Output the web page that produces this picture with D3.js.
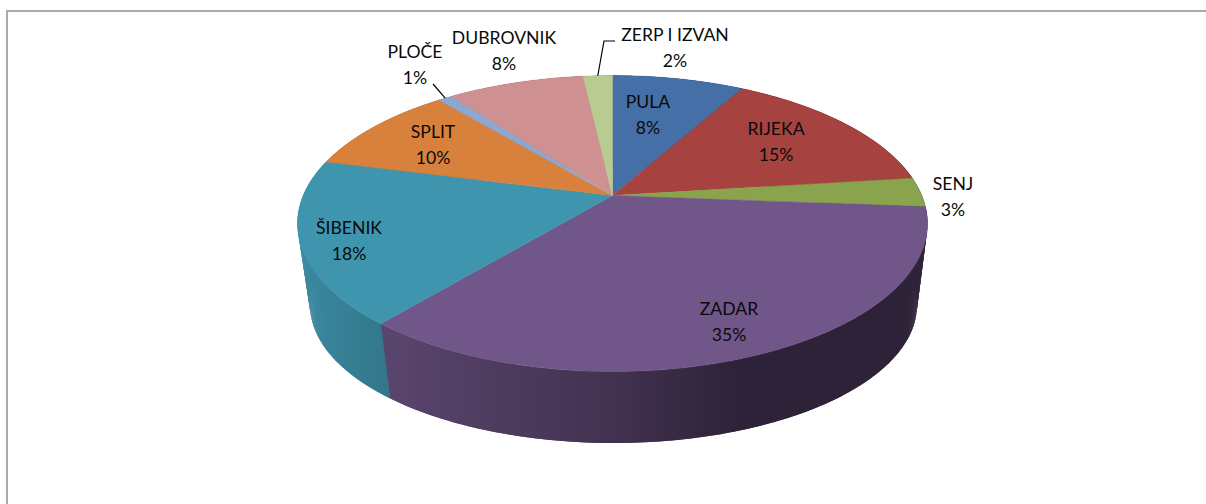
<!DOCTYPE html>
<html>
<head>
<meta charset="utf-8">
<script src="https://cdn.jsdelivr.net/npm/d3@7"></script>
<style>
  html, body { margin: 0; padding: 0; background: #fff; overflow: hidden; }
  text { font-family: Lato, "Open Sans", sans-serif; font-size: 17.6px; fill: #0a0a0a; }
</style>
</head>
<body>
<div id="chart"></div>
<script>
// Chart data
var categories = ["PULA", "RIJEKA", "SENJ", "ZADAR", "ŠIBENIK", "SPLIT", "PLOČE", "DUBROVNIK", "ZERP I IZVAN"];
var values = [8.1, 14.9, 3.2, 34.8, 17.9, 9.9, 0.9, 8.4, 1.8];
var percentLabels = ["8%", "15%", "3%", "35%", "18%", "10%", "1%", "8%", "2%"];
var colors = ["#4470a7", "#a64340", "#89a44c", "#71568a", "#4095ae", "#d8813d", "#8ea7cf", "#ce9090", "#b9cb92"];

// Label centres (x, y of first line), one per category
var labelX = [648, 776, 953, 729, 349, 433, 415, 504, 675];
var labelY = [101, 128, 183, 308, 227, 131, 51, 37, 34];

var width = 1206, height = 504;

var svg = d3.select("#chart").append("svg")
    .attr("width", width)
    .attr("height", height);

// Frame, only top and left are in view
svg.append("path")
    .attr("d", "M7,504V11H1206")
    .attr("fill", "none")
    .attr("stroke", "#aaaaaa")
    .attr("stroke-width", 2);

// Perspective: the disc is a circle seen from the front, so back is squeezed
var k = 0.189;
var topFace = { cx: 612.5, cy: 195.6, a: 142.7, b: 309.3 };
var bottomFace = { cx: 613.5, cy: 279, a: 133, b: 298 };

function project(face, angle) {
    var u = Math.sin(angle), v = Math.cos(angle);
    var w = 1 + k * v;
    return [face.cx + face.b * u / w, face.cy - face.a * v / w];
}

function arcPoints(face, s) {
    var n = Math.max(2, Math.ceil((s.endAngle - s.startAngle) / 0.01));
    return d3.range(n + 1).map(j => project(face, s.startAngle + (s.endAngle - s.startAngle) * j / n));
}

var pie = d3.pie().sort(null).value(d => d);
var slices = pie(values).map((d, i) => Object.assign(d, { i: i }));

// Side wall gets darker toward the right
var shadeX = [300, 385, 612, 740, 930];
var shadeF = [0.92, 0.8, 0.58, 0.4, 0.4];

function darken(color, f) {
    var c = d3.rgb(color);
    return d3.rgb(c.r * f, c.g * f, c.b * f).formatHex();
}

var grads = svg.append("defs").selectAll("linearGradient")
    .data(slices)
    .join("linearGradient")
    .attr("id", d => "wall" + d.i)
    .attr("gradientUnits", "userSpaceOnUse")
    .attr("x1", shadeX[0]).attr("x2", shadeX[shadeX.length - 1])
    .attr("y1", 0).attr("y2", 0);

grads.selectAll("stop")
    .data(d => shadeX.map((x, j) => ({ x: x, f: shadeF[j], color: colors[d.i] })))
    .join("stop")
    .attr("offset", d => (d.x - shadeX[0]) / (shadeX[shadeX.length - 1] - shadeX[0]))
    .attr("stop-color", d => darken(d.color, d.f));

// Side walls as thin quads, each one overlaps the next so no seams show.
// The top face hides whatever is at the back.
var step = Math.PI / 360;
var strips = [];
slices.forEach(s => {
    d3.range(s.startAngle, s.endAngle, step).forEach(a => {
        strips.push({ a0: a, a1: a + 2 * step, i: s.i });
    });
});

svg.append("g").selectAll("path")
    .data(strips)
    .join("path")
    .attr("d", d => {
        var p = [project(topFace, d.a0), project(topFace, d.a1), project(bottomFace, d.a1), project(bottomFace, d.a0)];
        return "M" + p.join("L") + "Z";
    })
    .attr("fill", d => "url(#wall" + d.i + ")");

// Top face
svg.append("g").selectAll("path")
    .data(slices)
    .join("path")
    .attr("d", d => d3.line()([[topFace.cx, topFace.cy]].concat(arcPoints(topFace, d))) + "Z")
    .attr("fill", d => colors[d.i])
    .attr("stroke", d => colors[d.i])
    .attr("stroke-width", 0.5);

// Leader lines for the two small outer labels
var leaders = [
    { i: 6, elbow: [[433, 84]] },
    { i: 8, elbow: [[604, 41], [615, 41]] }
];
svg.append("g").selectAll("path")
    .data(leaders)
    .join("path")
    .attr("d", d => {
        var s = slices[d.i];
        return d3.line()([project(topFace, (s.startAngle + s.endAngle) / 2)].concat(d.elbow));
    })
    .attr("fill", "none")
    .attr("stroke", "#000")
    .attr("stroke-width", 1.2);

// Labels
var label = svg.append("g").selectAll("text")
    .data(categories)
    .join("text")
    .attr("text-anchor", "middle");

label.append("tspan")
    .attr("x", (d, i) => labelX[i])
    .attr("y", (d, i) => labelY[i] + 7)
    .text(d => d);

label.append("tspan")
    .attr("x", (d, i) => labelX[i])
    .attr("y", (d, i) => labelY[i] + 33)
    .text((d, i) => percentLabels[i]);
</script>
</body>
</html>
